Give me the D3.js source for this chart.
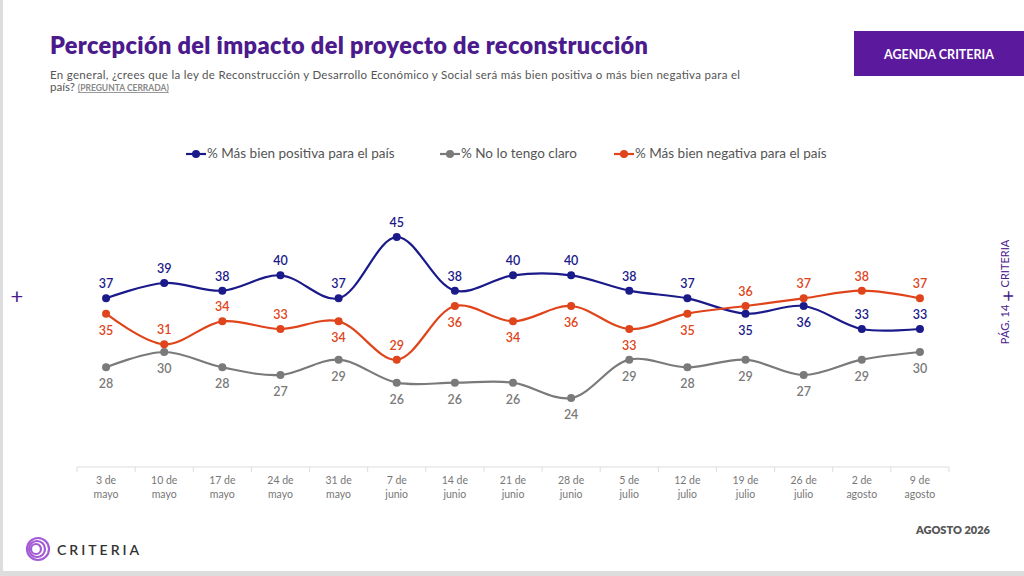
<!DOCTYPE html><html><head><meta charset="utf-8"><script src="https://cdn.jsdelivr.net/npm/d3@7"></script>
<style>body{margin:0;background:#fff;font-family:Lato,"Open Sans",sans-serif}</style></head><body><svg id="c" width="1024" height="576"></svg>
<script>
const categories=["3 de|mayo","10 de|mayo","17 de|mayo","24 de|mayo","31 de|mayo","7 de|junio","14 de|junio","21 de|junio","28 de|junio","5 de|julio","12 de|julio","19 de|julio","26 de|julio","2 de|agosto","9 de|agosto"];
const positiva=[37,39,38,40,37,45,38,40,40,38,37,35,36,33,33];
const noClaro=[28,30,28,27,29,26,26,26,24,29,28,29,27,29,30];
const negativa=[35,31,34,33,34,29,36,34,36,33,35,36,37,38,37];
const posBelow=[11,12], negBelow=[0,4,6,7,8,9,10];
const svg=d3.select("#c");
svg.append("rect").attr("x",0).attr("y",0).attr("width",1024).attr("height",576).attr("fill","#fff");
svg.append("rect").attr("x",0).attr("y",0).attr("width",3).attr("height",576).attr("fill","#ddd");
svg.append("rect").attr("x",0).attr("y",571).attr("width",1024).attr("height",5).attr("fill","#ddd");
svg.append("text").attr("x",50).attr("y",54).attr("font-size",23.5).attr("font-weight",800).attr("fill","#4b1a8c").attr("textLength",598).text("Percepción del impacto del proyecto de reconstrucción");
svg.append("text").attr("x",50).attr("y",79).attr("font-size",11.5).attr("fill","#555").attr("textLength",690).text("En general, ¿crees que la ley de Reconstrucción y Desarrollo Económico y Social será más bien positiva o más bien negativa para el");
const t2=svg.append("text").attr("x",50).attr("y",91).attr("font-size",11.5).attr("fill","#555").text("país? ");
t2.append("tspan").attr("font-size",8.5).attr("font-weight",700).attr("fill","#888").attr("text-decoration","underline").text("(PREGUNTA CERRADA)");
svg.append("rect").attr("x",854).attr("y",31).attr("width",170).attr("height",45).attr("fill","#5b1a9e");
svg.append("text").attr("x",939).attr("y",59).attr("text-anchor","middle").attr("font-size",12.5).attr("font-weight",700).attr("fill","#fff").text("AGENDA CRITERIA");
svg.append("text").attr("x",17).attr("y",304).attr("text-anchor","middle").attr("font-size",22).attr("fill","#4b1a8c").text("+");
const rv=svg.append("text").attr("transform","translate(1009,292) rotate(-90)").attr("text-anchor","middle").attr("font-size",11).attr("fill","#4b1a8c");
rv.append("tspan").text("PÁG. 14   ");rv.append("tspan").attr("font-size",20).attr("dy",6).text("+");rv.append("tspan").attr("dy",-6).text("   CRITERIA");
const x=d3.scaleBand().domain(categories).range([77,949]);
const y=d3.scaleLinear().domain([24,45]).range([398,237]);
svg.append("line").attr("x1",77).attr("x2",949).attr("y1",467).attr("y2",467).attr("stroke","#ddd");
const ticks=d3.range(categories.length+1).map(i=>77+i*x.bandwidth());
svg.selectAll(".tk").data(ticks).join("line").attr("x1",d=>d).attr("x2",d=>d).attr("y1",467).attr("y2",472).attr("stroke","#ddd");
categories.forEach(c=>{const p=c.split("|");const g=svg.append("text").attr("text-anchor","middle").attr("font-size",10.5).attr("fill","#777");
p.forEach((s,i)=>g.append("tspan").attr("x",x(c)+x.bandwidth()/2).attr("y",484+i*14).text(s));});
const series=[{d:positiva,c:"#1a1a8a",below:posBelow},{d:noClaro,c:"#7a7a7a",below:"all"},{d:negativa,c:"#e0441b",below:negBelow}];
const cx=i=>x(categories[i])+x.bandwidth()/2;
const line=d3.line().x((d,i)=>cx(i)).y(d=>y(d)).curve(d3.curveCatmullRom.alpha(0.5));
series.forEach(s=>{
svg.append("path").attr("d",line(s.d)).attr("fill","none").attr("stroke",s.c).attr("stroke-width",2.2);
svg.selectAll(null).data(s.d).join("circle").attr("cx",(d,i)=>cx(i)).attr("cy",d=>y(d)).attr("r",4).attr("fill",s.c);
svg.selectAll(null).data(s.d).join("text").attr("x",(d,i)=>cx(i)).attr("y",(d,i)=>{const b=s.below==="all"||s.below.includes(i);return b?y(d)+21:y(d)-10;})
.attr("text-anchor","middle").attr("font-size",12.5).attr("font-weight",600).attr("fill",s.c).text(d=>d);
});
const leg=[["% Más bien positiva para el país","#1a1a8a",186],["% No lo tengo claro","#7a7a7a",440],["% Más bien negativa para el país","#e0441b",614]];
leg.forEach(([t,c,lx])=>{svg.append("line").attr("x1",lx).attr("x2",lx+20).attr("y1",154).attr("y2",154).attr("stroke",c).attr("stroke-width",2.2);
svg.append("circle").attr("cx",lx+10).attr("cy",154).attr("r",4).attr("fill",c);
svg.append("text").attr("x",lx+21).attr("y",158).attr("font-size",13.5).attr("fill","#555").text(t);});
svg.append("text").attr("x",990).attr("y",534).attr("text-anchor","end").attr("font-size",11).attr("font-weight",800).attr("fill","#555").text("AGOSTO 2026");
const lg=svg.append("g").attr("transform","translate(38,549)");
[11,8,5].forEach((r,i)=>lg.append("circle").attr("cx",-i).attr("cy",0).attr("r",r).attr("fill","none").attr("stroke","#a35ad6").attr("stroke-width",2.2));
svg.append("text").attr("x",57).attr("y",555).attr("font-size",14).attr("font-weight",600).attr("letter-spacing",3).attr("fill","#333").text("CRITERIA");
</script></body></html>
